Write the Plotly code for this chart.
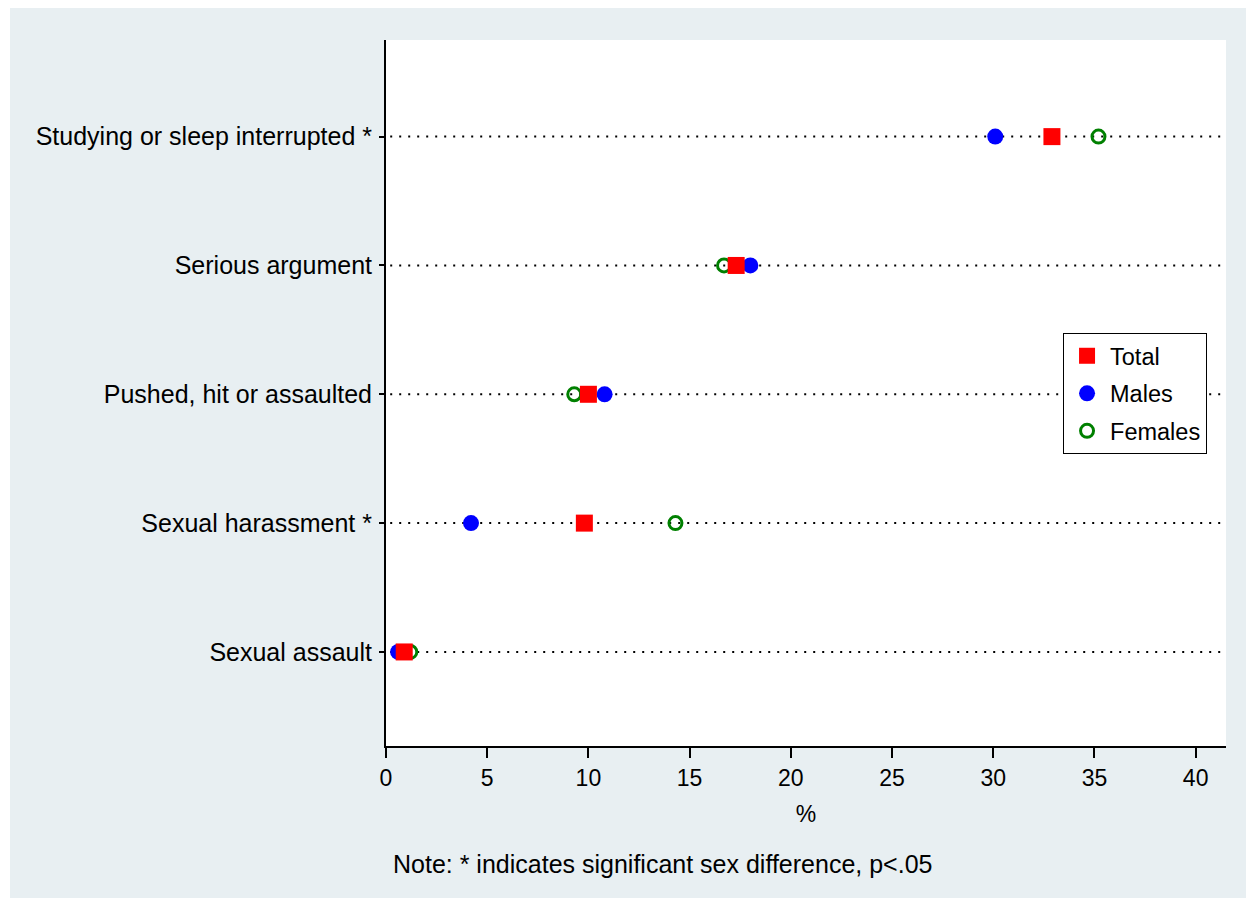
import plotly.graph_objects as go

# Incident categories, bottom to top
categories = [
    "Sexual assault",
    "Sexual harassment *",
    "Pushed, hit or assaulted",
    "Serious argument",
    "Studying or sleep interrupted *",
]

# Percentages per group, same order as categories
total = [0.9, 9.8, 10.0, 17.3, 32.9]
males = [0.6, 4.2, 10.8, 18.0, 30.1]
females = [1.2, 14.3, 9.3, 16.7, 35.2]

x_ticks = [0, 5, 10, 15, 20, 25, 30, 35, 40]

FONT = "Liberation Sans, Arial, Helvetica, sans-serif"
FRAME = "#E8EFF2"

y_pos = list(range(len(categories)))

fig = go.Figure()

fig.add_trace(go.Scatter(
    x=females, y=y_pos, mode="markers", name="Females",
    legendgroup="f", legendrank=3,
    marker=dict(symbol="circle-open", size=13, color="#008000",
                line=dict(width=3, color="#008000")),
))
fig.add_trace(go.Scatter(
    x=males, y=y_pos, mode="markers", name="Males",
    legendgroup="m", legendrank=2,
    marker=dict(symbol="circle", size=16, color="#0000FF"),
))
fig.add_trace(go.Scatter(
    x=total, y=y_pos, mode="markers", name="Total",
    legendgroup="t", legendrank=1,
    marker=dict(symbol="square", size=17, color="#FF0000"),
))

shapes = [
    # outer tinted frame
    dict(type="rect", xref="paper", yref="paper",
         x0=-376 / 840, x1=1 + 20 / 840, y0=-152 / 706, y1=1 + 32 / 706,
         fillcolor=FRAME, line=dict(width=0), layer="below"),
    # white plotting region
    dict(type="rect", xref="paper", yref="paper", x0=0, x1=1, y0=0, y1=1,
         fillcolor="white", line=dict(width=0), layer="below"),
]
# dotted guide lines for each category
for yv in y_pos:
    shapes.append(dict(type="line", xref="paper", yref="y", x0=0.005, x1=1,
                       y0=yv, y1=yv, layer="below",
                       line=dict(color="black", width=2, dash="2px,7px")))

fig.update_layout(
    width=1256, height=909,
    margin=dict(l=386, r=30, t=40, b=163),
    paper_bgcolor="white", plot_bgcolor="white",
    font=dict(family=FONT, size=25, color="black"),
    shapes=shapes,
    showlegend=True,
    legend=dict(
        x=0.806, y=0.585, xanchor="left", yanchor="top",
        bgcolor="white", bordercolor="black", borderwidth=1,
        font=dict(size=23.5, family=FONT, color="black"),
        traceorder="grouped", tracegroupgap=4,
        itemsizing="trace", itemwidth=36,
        entrywidth=120, entrywidthmode="pixels",
    ),
    xaxis=dict(
        range=[0, 41.5], tickvals=x_ticks, ticks="outside", ticklen=10,
        tickwidth=2, tickcolor="black", showline=True, linecolor="black",
        linewidth=2, showgrid=False, zeroline=False,
        tickfont=dict(size=23, family=FONT),
        title=dict(text="%", font=dict(size=23, family=FONT), standoff=16),
    ),
    yaxis=dict(
        range=[-0.73, 4.75], tickvals=y_pos, ticktext=categories,
        ticks="outside", ticklen=5, tickwidth=2, tickcolor="black",
        showline=True, linecolor="black", linewidth=2, showgrid=False,
        zeroline=False, tickfont=dict(size=25, family=FONT),
        ticklabelstandoff=2,
    ),
    annotations=[dict(
        text="Note: * indicates significant sex difference, p<.05",
        xref="paper", yref="paper", x=0, y=-0.167, xshift=5,
        xanchor="left", yanchor="middle", showarrow=False,
        font=dict(size=25, family=FONT, color="black"),
    )],
)

fig.write_html("out.html")
